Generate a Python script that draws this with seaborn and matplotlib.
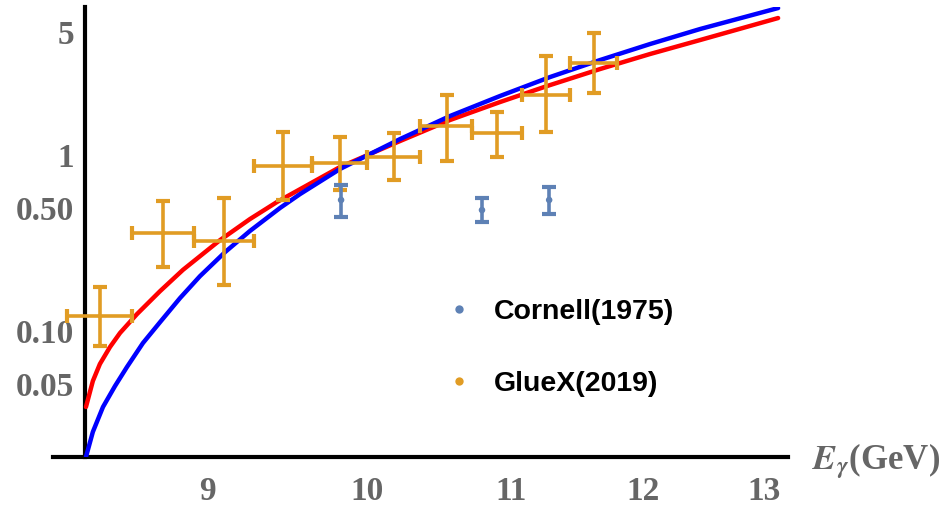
import numpy as np
import pandas as pd
import seaborn as sns
import matplotlib
matplotlib.use("Agg")
import matplotlib.pyplot as plt
import matplotlib.transforms as mtransforms
from matplotlib.lines import Line2D
from matplotlib.ticker import FixedLocator, FixedFormatter, LogLocator

# GlueX(2019) points
glx_E = [8.38, 8.74, 9.10, 9.46, 9.82, 10.18, 10.54, 10.90, 11.26, 11.62]
glx_sig = [0.117, 0.347, 0.312, 0.833, 0.866, 0.937, 1.405, 1.28, 2.11, 3.20]
glx_lo = [0.079, 0.222, 0.175, 0.534, 0.608, 0.693, 0.889, 0.937, 1.30, 2.16]
glx_hi = [0.171, 0.527, 0.548, 1.30, 1.22, 1.28, 2.11, 1.69, 3.51, 4.74]
glx_dE = 0.18

# Cornell(1975) points
cor_E = [9.83, 10.79, 11.28]
cor_sig = [0.534, 0.468, 0.534]
cor_lo = [0.427, 0.40, 0.444]
cor_hi = [0.65, 0.548, 0.633]

# model curves
blue_E = [8.304, 8.342, 8.398, 8.465, 8.532, 8.623, 8.721, 8.837, 8.954, 9.104, 9.255,
          9.441, 9.567, 9.823, 10.221, 10.564, 10.919, 11.287, 11.666, 12.058, 12.464, 13.124]
blue_v = [0.0185, 0.0257, 0.0356, 0.0468, 0.0600, 0.0822, 0.108, 0.148, 0.197, 0.270, 0.356,
          0.481, 0.577, 0.801, 1.185, 1.602, 2.081, 2.668, 3.332, 4.108, 5.00, 6.58]
red_E = [8.304, 8.342, 8.381, 8.437, 8.493, 8.589, 8.721, 8.854, 9.074, 9.255, 9.422,
         9.823, 10.221, 10.564, 10.919, 11.264, 11.666, 12.058, 12.464, 13.124]
red_v = [0.0356, 0.0500, 0.0625, 0.0780, 0.0937, 0.120, 0.162, 0.214, 0.316, 0.416, 0.520,
         0.822, 1.155, 1.520, 1.923, 2.371, 2.962, 3.605, 4.329, 5.773]

x_ticks = [9, 10, 11, 12, 13]
y_ticks = [0.05, 0.1, 0.5, 1, 5]
y_tick_labels = ["0.05", "0.10", "0.50", "1", "5"]

c_blue = "#5E81B5"
c_orange = "#E19C24"
gray = "#666666"

sns.set_theme(style="white")
plt.rcParams["mathtext.fontset"] = "stix"

fig = plt.figure(figsize=(9.47, 5.08), dpi=100)
W, H = 947, 508
ax = fig.add_axes([53 / W, 1 - 457 / H, (788 - 53) / W, (457 - 7) / H])

curves = pd.concat([
    pd.DataFrame({"E": red_E, "v": red_v, "model": "red"}),
    pd.DataFrame({"E": blue_E, "v": blue_v, "model": "blue"}),
])
sns.lineplot(data=curves, x="E", y="v", hue="model", palette={"red": "#FF0000", "blue": "#0000FF"},
             linewidth=3.2, sort=True, estimator=None, legend=False, ax=ax, zorder=3)

# error bars
g_sig = np.array(glx_sig)
ax.errorbar(glx_E, glx_sig, xerr=glx_dE,
            yerr=[g_sig - np.array(glx_lo), np.array(glx_hi) - g_sig],
            fmt="none", ecolor=c_orange, elinewidth=2.6, capsize=5, capthick=3, zorder=5)
c_sig = np.array(cor_sig)
ax.errorbar(cor_E, cor_sig,
            yerr=[c_sig - np.array(cor_lo), np.array(cor_hi) - c_sig],
            fmt="none", ecolor=c_blue, elinewidth=2.6, capsize=5, capthick=3, zorder=5)

pts = pd.concat([
    pd.DataFrame({"E": cor_E, "s": cor_sig, "src": "Cornell(1975)", "sz": 22}),
    pd.DataFrame({"E": glx_E, "s": glx_sig, "src": "GlueX(2019)", "sz": 10}),
])
sns.scatterplot(data=pts, x="E", y="s", hue="src", size="sz", sizes=(10, 22),
                palette={"Cornell(1975)": c_blue, "GlueX(2019)": c_orange},
                edgecolor="none", legend=False, ax=ax, zorder=6)

ax.set_xscale("log")
ax.set_yscale("log")
ax.set_xlim(8.125, 13.21)
ax.set_ylim(0.0185, 6.67)

ax.spines["top"].set_visible(False)
ax.spines["right"].set_visible(False)
ax.spines["left"].set_position(("data", 8.30))
for s in ["left", "bottom"]:
    ax.spines[s].set_linewidth(3)
    ax.spines[s].set_color("black")
    ax.spines[s].set_zorder(2)

ax.xaxis.set_major_locator(FixedLocator(x_ticks))
ax.xaxis.set_major_formatter(FixedFormatter([str(t) for t in x_ticks]))
ax.xaxis.set_minor_locator(FixedLocator(list(np.arange(8.2, 13.21, 0.2))))
ax.xaxis.set_minor_formatter(FixedFormatter([]))
ax.yaxis.set_major_locator(FixedLocator(y_ticks))
ax.yaxis.set_major_formatter(FixedFormatter(y_tick_labels))
ax.yaxis.set_minor_locator(LogLocator(base=10, subs=np.arange(2, 10)))
ax.yaxis.set_minor_formatter(FixedFormatter([]))

ax.tick_params(axis="both", which="major", direction="in", length=6, width=0.8,
               color="#999999", labelcolor=gray)
ax.tick_params(axis="both", which="minor", direction="in", length=3.5, width=0.6,
               color="#aaaaaa")
ax.tick_params(axis="x", which="major", pad=14)
ax.tick_params(axis="y", which="major", pad=8)
shift = mtransforms.ScaledTranslation(0, -3 / 100, fig.dpi_scale_trans)
for lab in ax.get_xticklabels() + ax.get_yticklabels():
    lab.set_fontfamily("Liberation Serif")
    lab.set_fontweight("bold")
    lab.set_fontsize(24)
for lab in ax.get_yticklabels():
    lab.set_transform(lab.get_transform() + shift)
ax.set_xlabel("")
ax.set_ylabel("")

fig.text(812 / W, 1 - 461 / H, r"$\mathbfit{E}_{\mathbfit{\gamma}}$(GeV)",
         ha="left", va="center", color=gray, fontsize=25,
         family="Liberation Serif", weight="bold")

handles = [Line2D([], [], marker="o", linestyle="none", markersize=6,
                  markerfacecolor=c, markeredgecolor="none") for c in (c_blue, c_orange)]
ax.legend(handles, ["Cornell(1975)", "GlueX(2019)"], frameon=False,
          loc="center left", bbox_to_anchor=(445 / W, 1 - 348 / H),
          bbox_transform=fig.transFigure, borderpad=0, borderaxespad=0,
          handlelength=1.0, handletextpad=0.7, labelspacing=1.62, labelcolor="black",
          prop=dict(family="Liberation Sans", weight="bold", size=20.5))

fig.savefig("out.png", dpi=100)
